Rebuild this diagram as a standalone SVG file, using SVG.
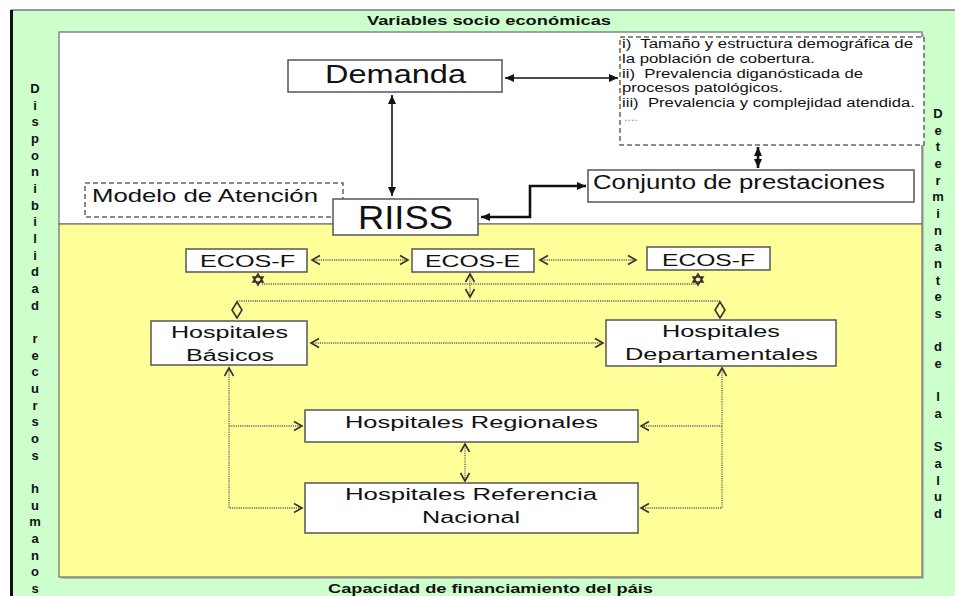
<svg xmlns="http://www.w3.org/2000/svg" width="955" height="596" viewBox="0 0 955 596">
<style>
.t{font-family:"Liberation Sans",Arial,sans-serif;fill:#111;white-space:pre}
.b{font-weight:bold}
.box{fill:#fff;stroke:#555;stroke-width:1.5}
.dbox{fill:#fff;stroke:#666;stroke-width:1.5;stroke-dasharray:5 3}
.sol{fill:none;stroke:#111;stroke-width:1.6}
.thick{fill:none;stroke:#111;stroke-width:2.6}
.dot{fill:none;stroke:#666;stroke-width:1.3;stroke-dasharray:1.2 1}
.mk{fill:none;stroke:#333;stroke-width:1.6}
</style>
<defs>
<marker id="sa" viewBox="-10 -6 12 12" refX="0" refY="0" markerWidth="12" markerHeight="12" markerUnits="userSpaceOnUse" orient="auto-start-reverse">
<path d="M-9,-4 L0,0 L-9,4 Z" fill="#111"/>
</marker>
<marker id="oa" viewBox="-10 -6 12 12" refX="0" refY="0" markerWidth="12" markerHeight="12" markerUnits="userSpaceOnUse" orient="auto-start-reverse">
<path d="M-8,-4.5 L0,0 L-8,4.5" fill="none" stroke="#333" stroke-width="1.6"/>
</marker>
</defs>
<rect x="0" y="0" width="955" height="596" fill="#fff"/>
<g id="background">
<rect x="11" y="10" width="944" height="586" fill="#ccffcc"/>
<line x1="11" y1="10" x2="955" y2="10" stroke="#777" stroke-width="1.5"/>
<line x1="11.5" y1="10" x2="11.5" y2="596" stroke="#111" stroke-width="3"/>
<rect x="61" y="34" width="863" height="545" fill="#999" opacity="0.6"/>
<rect x="59" y="32" width="863" height="192" fill="#fff" stroke="#777" stroke-width="1.3"/>
<rect x="59" y="224" width="863" height="353" fill="#ffff99" stroke="#777" stroke-width="1.3"/>
</g>
<g id="labels-frame">
<text class="t b" x="367" y="25" font-size="12.5" textLength="244" lengthAdjust="spacingAndGlyphs">Variables socio económicas</text>
<text class="t b" x="328" y="593" font-size="13" textLength="325" lengthAdjust="spacingAndGlyphs">Capacidad de financiamiento del páis</text>
<text class="t b" font-size="13" text-anchor="middle"><tspan x="35" y="93">D</tspan><tspan x="35" dy="16.67">i</tspan><tspan x="35" dy="16.67">s</tspan><tspan x="35" dy="16.67">p</tspan><tspan x="35" dy="16.67">o</tspan><tspan x="35" dy="16.67">n</tspan><tspan x="35" dy="16.67">i</tspan><tspan x="35" dy="16.67">b</tspan><tspan x="35" dy="16.67">i</tspan><tspan x="35" dy="16.67">l</tspan><tspan x="35" dy="16.67">i</tspan><tspan x="35" dy="16.67">d</tspan><tspan x="35" dy="16.67">a</tspan><tspan x="35" dy="16.67">d</tspan><tspan x="35" dy="33.34">r</tspan><tspan x="35" dy="16.67">e</tspan><tspan x="35" dy="16.67">c</tspan><tspan x="35" dy="16.67">u</tspan><tspan x="35" dy="16.67">r</tspan><tspan x="35" dy="16.67">s</tspan><tspan x="35" dy="16.67">o</tspan><tspan x="35" dy="16.67">s</tspan><tspan x="35" dy="33.34">h</tspan><tspan x="35" dy="16.67">u</tspan><tspan x="35" dy="16.67">m</tspan><tspan x="35" dy="16.67">a</tspan><tspan x="35" dy="16.67">n</tspan><tspan x="35" dy="16.67">o</tspan><tspan x="35" dy="16.67">s</tspan></text>
<text class="t b" font-size="13" text-anchor="middle"><tspan x="938" y="118">D</tspan><tspan x="938" dy="16.67">e</tspan><tspan x="938" dy="16.67">t</tspan><tspan x="938" dy="16.67">e</tspan><tspan x="938" dy="16.67">r</tspan><tspan x="938" dy="16.67">m</tspan><tspan x="938" dy="16.67">i</tspan><tspan x="938" dy="16.67">n</tspan><tspan x="938" dy="16.67">a</tspan><tspan x="938" dy="16.67">n</tspan><tspan x="938" dy="16.67">t</tspan><tspan x="938" dy="16.67">e</tspan><tspan x="938" dy="16.67">s</tspan><tspan x="938" dy="33.34">d</tspan><tspan x="938" dy="16.67">e</tspan><tspan x="938" dy="33.34">l</tspan><tspan x="938" dy="16.67">a</tspan><tspan x="938" dy="33.34">S</tspan><tspan x="938" dy="16.67">a</tspan><tspan x="938" dy="16.67">l</tspan><tspan x="938" dy="16.67">u</tspan><tspan x="938" dy="16.67">d</tspan></text>
</g>
<g id="connectors">
<path class="sol" d="M392,95 V196" marker-start="url(#sa)" marker-end="url(#sa)"/>
<path class="sol" d="M505,78 H618" marker-start="url(#sa)" marker-end="url(#sa)"/>
<path class="thick" d="M758,147 V168" marker-start="url(#sa)" marker-end="url(#sa)"/>
<path class="thick" d="M481,217 H530 V186 H586" marker-start="url(#sa)" marker-end="url(#sa)"/>
<path class="dot" d="M312,260 H408" marker-start="url(#oa)" marker-end="url(#oa)"/>
<path class="dot" d="M540,260 H636" marker-start="url(#oa)" marker-end="url(#oa)"/>
<path class="dot" d="M470,274 V297" marker-start="url(#oa)" marker-end="url(#oa)"/>
<path class="dot" d="M262,284 H696"/>
<path class="mk" d="M258,274 L253,282 L263,282 Z M258,285 L253,277 L263,277 Z" stroke-width="1.2"/>
<path class="mk" d="M698,274 L693,282 L703,282 Z M698,285 L693,277 L703,277 Z" stroke-width="1.2"/>
<path class="dot" d="M237,301 H720"/>
<path class="mk" d="M237,302 L232,310 L237,318 L242,310 Z"/>
<path class="mk" d="M720,302 L715,310 L720,318 L725,310 Z"/>
<path class="dot" d="M311,343 H603" marker-start="url(#oa)" marker-end="url(#oa)"/>
<path class="dot" d="M229,368 V508 H302" marker-start="url(#oa)" marker-end="url(#oa)"/>
<path class="dot" d="M229,426 H302" marker-end="url(#oa)"/>
<path class="dot" d="M722,368 V508 H641" marker-start="url(#oa)" marker-end="url(#oa)"/>
<path class="dot" d="M722,426 H641" marker-end="url(#oa)"/>
<path class="dot" d="M465,444 V481" marker-start="url(#oa)" marker-end="url(#oa)"/>
</g>
<g id="demanda">
<rect class="box" x="288" y="60" width="214" height="32"/>
<text class="t" x="325" y="83" font-size="25" textLength="141" lengthAdjust="spacingAndGlyphs">Demanda</text>
</g>
<g id="info">
<rect class="dbox" x="620" y="37" width="304" height="108"/>
<text class="t" x="622" y="48" font-size="12.5" textLength="291" lengthAdjust="spacingAndGlyphs">i)  Tamaño y estructura demográfica de</text>
<text class="t" x="622" y="63" font-size="12.5" textLength="193" lengthAdjust="spacingAndGlyphs">la población de cobertura.</text>
<text class="t" x="622" y="78" font-size="12.5" textLength="241" lengthAdjust="spacingAndGlyphs">ii)  Prevalencia diganósticada de</text>
<text class="t" x="622" y="92" font-size="12.5" textLength="161" lengthAdjust="spacingAndGlyphs">procesos patológicos.</text>
<text class="t" x="622" y="107" font-size="12.5" textLength="293" lengthAdjust="spacingAndGlyphs">iii)  Prevalencia y complejidad atendida.</text>
<text class="t" x="624" y="121" font-size="12.5" style="fill:#999">....</text>
</g>
<g id="modelo">
<rect class="dbox" x="85" y="183" width="258" height="34"/>
<text class="t" x="92" y="202" font-size="19" textLength="226" lengthAdjust="spacingAndGlyphs">Modelo de Atención</text>
</g>
<g id="riiss">
<rect class="box" x="333" y="199" width="145" height="36"/>
<text class="t" x="358" y="229" font-size="34" textLength="95" lengthAdjust="spacingAndGlyphs">RIISS</text>
</g>
<g id="conjunto">
<rect class="box" x="588" y="170" width="326" height="32"/>
<text class="t" x="593" y="189" font-size="19.5" textLength="292" lengthAdjust="spacingAndGlyphs">Conjunto de prestaciones</text>
</g>
<g id="ecos-f-left">
<rect class="box" x="186" y="249" width="121" height="23"/>
<text class="t" x="200" y="267" font-size="17" textLength="95" lengthAdjust="spacingAndGlyphs">ECOS-F</text>
</g>
<g id="ecos-e">
<rect class="box" x="412" y="249" width="122" height="23"/>
<text class="t" x="425" y="267" font-size="17" textLength="95" lengthAdjust="spacingAndGlyphs">ECOS-E</text>
</g>
<g id="ecos-f-right">
<rect class="box" x="647" y="247" width="123" height="23"/>
<text class="t" x="662" y="266" font-size="17" textLength="93" lengthAdjust="spacingAndGlyphs">ECOS-F</text>
</g>
<g id="hosp-basicos">
<rect class="box" x="151" y="321" width="156" height="44"/>
<text class="t" x="171" y="338" font-size="16" textLength="117" lengthAdjust="spacingAndGlyphs">Hospitales</text>
<text class="t" x="186" y="361" font-size="16" textLength="88" lengthAdjust="spacingAndGlyphs">Básicos</text>
</g>
<g id="hosp-departamentales">
<rect class="box" x="606" y="320" width="230" height="46"/>
<text class="t" x="662" y="337" font-size="16" textLength="118" lengthAdjust="spacingAndGlyphs">Hospitales</text>
<text class="t" x="625" y="360" font-size="16" textLength="193" lengthAdjust="spacingAndGlyphs">Departamentales</text>
</g>
<g id="hosp-regionales">
<rect class="box" x="305" y="410" width="333" height="32"/>
<text class="t" x="345" y="428" font-size="16" textLength="253" lengthAdjust="spacingAndGlyphs">Hospitales Regionales</text>
</g>
<g id="hosp-referencia">
<rect class="box" x="305" y="483" width="333" height="50"/>
<text class="t" x="345" y="500" font-size="16" textLength="252" lengthAdjust="spacingAndGlyphs">Hospitales Referencia</text>
<text class="t" x="422" y="523" font-size="16" textLength="98" lengthAdjust="spacingAndGlyphs">Nacional</text>
</g>
</svg>
